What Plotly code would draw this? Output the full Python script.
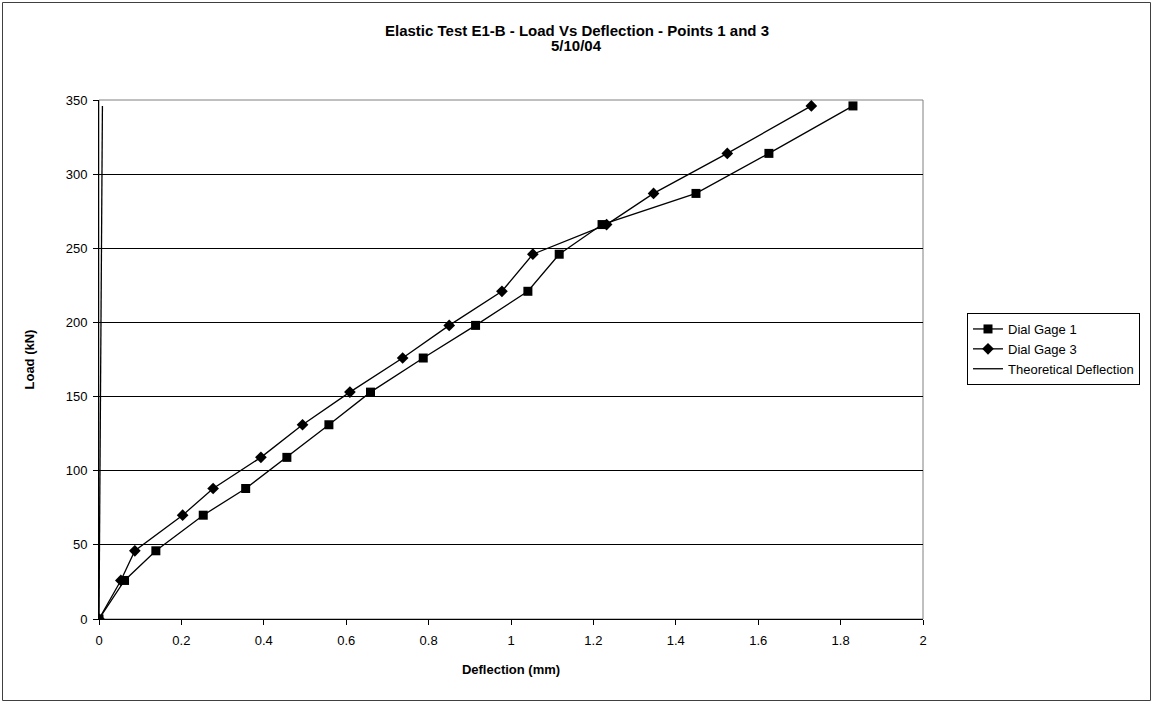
import plotly.graph_objects as go

# Measured loads (kN) at each reading
load_kn = [0, 26, 46, 70, 88, 109, 131, 153, 176, 198, 221, 246, 266, 287, 314, 346]

# Dial gauge readings (mm)
gage1_mm = [0, 0.062, 0.138, 0.253, 0.356, 0.456, 0.558, 0.659, 0.787, 0.914,
            1.041, 1.117, 1.221, 1.449, 1.626, 1.830]
gage3_mm = [0, 0.053, 0.087, 0.203, 0.277, 0.393, 0.494, 0.609, 0.737, 0.850,
            0.978, 1.053, 1.232, 1.346, 1.525, 1.729]

# Theoretical elastic deflection (mm) at the same loads
theory_mm = [0, 0.0006, 0.0011, 0.0017, 0.0021, 0.0026, 0.0031, 0.0037,
             0.0042, 0.0047, 0.0053, 0.0059, 0.0064, 0.0069, 0.0075, 0.0083]

x_ticks = [0, 0.2, 0.4, 0.6, 0.8, 1, 1.2, 1.4, 1.6, 1.8, 2]
x_tick_text = ["0", "0.2", "0.4", "0.6", "0.8", "1", "1.2", "1.4", "1.6", "1.8", "2"]
y_ticks = [0, 50, 100, 150, 200, 250, 300, 350]

title_lines = ["Elastic Test E1-B - Load Vs Deflection - Points 1 and 3", "5/10/04"]

FONT = "Arial, Liberation Sans, sans-serif"
W, H = 1153, 704
ML, MR, MT, MB = 99, 230, 100, 85

fig = go.Figure()
fig.add_trace(go.Scatter(
    x=gage1_mm, y=load_kn, mode="lines+markers", name="Dial Gage 1",
    line=dict(color="black", width=1.3),
    marker=dict(symbol="square", size=9, color="black"),
))
fig.add_trace(go.Scatter(
    x=gage3_mm, y=load_kn, mode="lines+markers", name="Dial Gage 3",
    line=dict(color="black", width=1.3),
    marker=dict(symbol="diamond", size=9, color="black"),
))
fig.add_trace(go.Scatter(
    x=theory_mm, y=load_kn, mode="lines", name="Theoretical Deflection",
    line=dict(color="black", width=1.3),
))

pw = W - ML - MR
ph = H - MT - MB

def px_x(p):
    return (p - ML) / pw

def px_y(p):
    return 1 - (p - MT) / ph

shapes = [
    # plot-area frame
    dict(type="rect", xref="paper", yref="paper", x0=0, x1=1, y0=0, y1=1,
         line=dict(color="#808080", width=1), layer="below"),
    # outer chart border
    dict(type="rect", xref="paper", yref="paper",
         x0=px_x(2.5), x1=px_x(1150.5), y0=px_y(700.5), y1=px_y(2.5),
         line=dict(color="#404040", width=1)),
]

# two-line chart title, centred on the whole chart
annotations = [
    dict(text=f"<b>{line}</b>", xref="paper", yref="paper",
         x=px_x(W / 2), y=px_y(cy), xanchor="center", yanchor="middle",
         showarrow=False, font=dict(family=FONT, size=15, color="black"))
    for line, cy in zip(title_lines, [31, 46])
]

fig.update_layout(
    width=W, height=H,
    margin=dict(l=ML, r=MR, t=MT, b=MB),
    paper_bgcolor="white", plot_bgcolor="white",
    font=dict(family=FONT, size=13, color="black"),
    showlegend=True,
    legend=dict(
        x=px_x(967), y=px_y(313), xanchor="left", yanchor="top",
        bordercolor="black", borderwidth=1, bgcolor="white",
        font=dict(family=FONT, size=13, color="black"),
        tracegroupgap=0, itemwidth=30,
    ),
    shapes=shapes,
    annotations=annotations,
)

fig.update_xaxes(
    range=[0, 2], tickvals=x_ticks, ticktext=x_tick_text,
    showgrid=False, zeroline=False,
    showline=True, linecolor="black", linewidth=1,
    ticks="outside", ticklen=5, tickcolor="black",
    ticklabelstandoff=4,
    tickfont=dict(family=FONT, size=13),
    title=dict(text="<b>Deflection (mm)</b>", font=dict(family=FONT, size=13), standoff=18),
)
fig.update_yaxes(
    range=[0, 350], tickvals=y_ticks,
    showgrid=True, gridcolor="black", gridwidth=1,
    zeroline=False,
    showline=True, linecolor="black", linewidth=1,
    ticks="outside", ticklen=5, tickcolor="black",
    ticklabelstandoff=3,
    tickfont=dict(family=FONT, size=13),
    title=dict(text="<b>Load (kN)</b>", font=dict(family=FONT, size=13), standoff=28),
)

fig.write_html("out.html")
